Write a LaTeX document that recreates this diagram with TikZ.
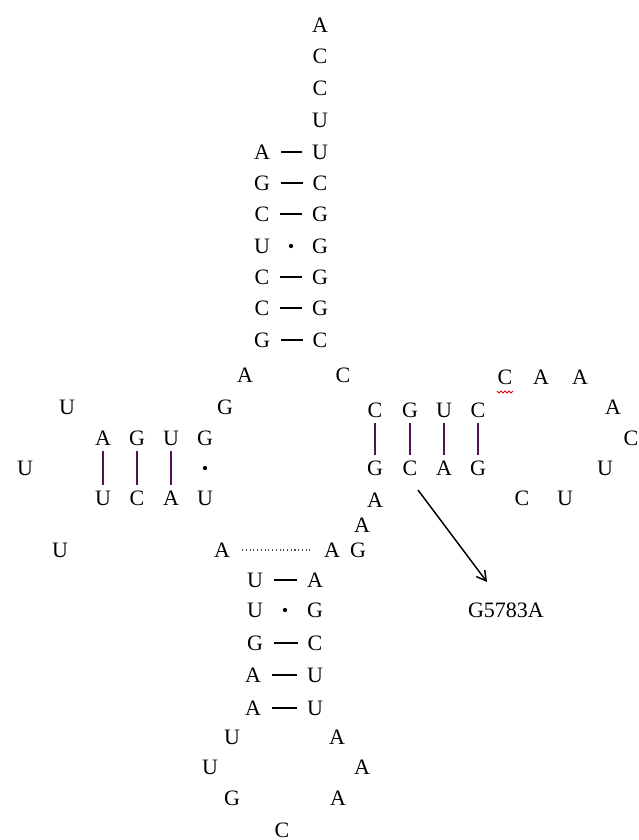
\documentclass[tikz,border=0pt]{standalone}
\usepackage{fontspec}
\setmainfont{Liberation Serif}
\usetikzlibrary{arrows.meta}
\definecolor{barpurple}{RGB}{85,15,85}
\begin{document}
\begin{tikzpicture}[x=0.75pt,y=-0.75pt,
  nt/.style={inner sep=0pt,font=\fontsize{16.5pt}{18pt}\selectfont},
  wc/.style={draw=black,line width=1.3pt,shorten <=8pt,shorten >=7pt},
  bar/.style={draw=barpurple,line width=1.5pt,shorten <=4pt,shorten >=4pt},
  gu/.style={circle,fill=black,inner sep=0pt,minimum size=3.2pt},
  dotline/.style={draw=black!70,line width=0.8pt,dotted,shorten <=9pt,shorten >=8pt},
  arr/.style={draw=black,line width=1.1pt,-{Straight Barb[length=7pt,width=8pt]}}]
\useasboundingbox (0,0) rectangle (639,840);
% acceptor end
\node[nt] (t1) at (320,25) {A};
\node[nt] (t2) at (320,56) {C};
\node[nt] (t3) at (320,88) {C};
\node[nt] (t4) at (320,120) {U};
% acceptor stem
\node[nt] (L1) at (262,152) {A}; \node[nt] (R1) at (320,152) {U};
\node[nt] (L2) at (262,183) {G}; \node[nt] (R2) at (320,183) {C};
\node[nt] (L3) at (262,214) {C}; \node[nt] (R3) at (320,214) {G};
\node[nt] (L4) at (262,246) {U}; \node[nt] (R4) at (320,246) {G};
\node[nt] (L5) at (262,277) {C}; \node[nt] (R5) at (320,277) {G};
\node[nt] (L6) at (262,308) {C}; \node[nt] (R6) at (320,308) {G};
\node[nt] (L7) at (262,340) {G}; \node[nt] (R7) at (320,340) {C};
\draw[wc] (L1) -- (R1);
\draw[wc] (L2) -- (R2);
\draw[wc] (L3) -- (R3);
\path (L4) -- node[gu] {} (R4);
\draw[wc] (L5) -- (R5);
\draw[wc] (L6) -- (R6);
\draw[wc] (L7) -- (R7);
% junction
\node[nt] (j1) at (245,375) {A};
\node[nt] (j2) at (343,375) {C};
\node[nt] (j3) at (225,407) {G};
% D arm
\node[nt] (d1) at (103,438) {A}; \node[nt] (e1) at (103,498) {U};
\node[nt] (d2) at (137,438) {G}; \node[nt] (e2) at (137,498) {C};
\node[nt] (d3) at (171,438) {U}; \node[nt] (e3) at (171,498) {A};
\node[nt] (d4) at (205,438) {G}; \node[nt] (e4) at (205,498) {U};
\draw[bar] (d1) -- (e1);
\draw[bar] (d2) -- (e2);
\draw[bar] (d3) -- (e3);
\path (d4) -- node[gu] {} (e4);
\node[nt] (dl1) at (67,407) {U};
\node[nt] (dl2) at (25,468) {U};
\node[nt] (dl3) at (60,550) {U};
% lower junction
\node[nt] (k1) at (222,550) {A};
\node[nt] (k2) at (332,550) {A};
\node[nt] (k3) at (358,550) {G};
\draw[dotline] (k1) -- (k2);
% T arm
\node[nt] (p1) at (375,410) {C}; \node[nt] (q1) at (375,468) {G};
\node[nt] (p2) at (410,410) {G}; \node[nt] (q2) at (410,468) {C};
\node[nt] (p3) at (444,410) {U}; \node[nt] (q3) at (444,468) {A};
\node[nt] (p4) at (478,410) {C}; \node[nt] (q4) at (478,468) {G};
\draw[bar] (p1) -- (q1);
\draw[bar] (p2) -- (q2);
\draw[bar] (p3) -- (q3);
\draw[bar] (p4) -- (q4);
\node[nt] (v1) at (375,500) {A};
\node[nt] (v2) at (362,525) {A};
% T loop
\node[nt] (m1) at (505,377) {C};
\node[nt] (m2) at (541,377) {A};
\node[nt] (m3) at (580,377) {A};
\node[nt] (m4) at (613,407) {A};
\node[nt] (m5) at (631,438) {C};
\node[nt] (m6) at (605,468) {U};
\node[nt] (m7) at (565,498) {U};
\node[nt] (m8) at (522,498) {C};
\draw[red!85!black,line width=0.7pt] ([shift={(-8,14)}]m1.center) -- ++(2,2) -- ++(2,-2) -- ++(2,2) -- ++(2,-2) -- ++(2,2) -- ++(2,-2) -- ++(2,2) -- ++(2,-2);
% anticodon stem
\node[nt] (B1) at (255,580) {U}; \node[nt] (C1) at (315,580) {A};
\node[nt] (B2) at (255,610) {U}; \node[nt] (C2) at (315,610) {G};
\node[nt] (B3) at (255,643) {G}; \node[nt] (C3) at (315,643) {C};
\node[nt] (B4) at (253,675) {A}; \node[nt] (C4) at (315,675) {U};
\node[nt] (B5) at (253,708) {A}; \node[nt] (C5) at (315,708) {U};
\draw[wc] (B1) -- (C1);
\path (B2) -- node[gu] {} (C2);
\draw[wc] (B3) -- (C3);
\draw[wc] (B4) -- (C4);
\draw[wc] (B5) -- (C5);
% anticodon loop
\node[nt] (n1) at (232,737) {U};
\node[nt] (n2) at (210,767) {U};
\node[nt] (n3) at (232,798) {G};
\node[nt] (n4) at (282,830) {C};
\node[nt] (n5) at (338,798) {A};
\node[nt] (n6) at (362,767) {A};
\node[nt] (n7) at (337,737) {A};
% mutation label
\node[nt] (lbl) at (506,610) {G5783A};
\draw[arr] ([shift={(8,22)}]q2.center) -- ([shift={(-19,-28)}]lbl.center);
\end{tikzpicture}
\end{document}
